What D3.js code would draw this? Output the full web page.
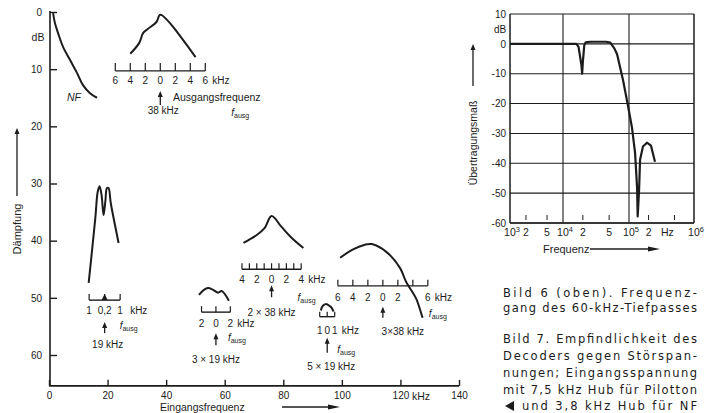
<!DOCTYPE html>
<html>
<head>
<meta charset="utf-8">
<script src="https://cdn.jsdelivr.net/npm/d3@7"></script>
<style>
    body { margin: 0; background: #fff; }
    text { font-family: "Liberation Sans", Arial, sans-serif; fill: #1c1c1c; }
    text.cap { font-family: "DejaVu Sans", sans-serif; }
</style>
</head>
<body>
<div id="chart"></div>
<script>
// ---- Bild 7: Daempfung ueber Eingangsfrequenz ----
var xTicks7 = [0, 20, 40, 60, 80, 100, 120, 140];
var yTicks7 = [0, 10, 20, 30, 40, 50, 60];

// NF curve (kHz, dB)
var nfCurve = [[1.4, 0.2], [2.0, 1.9], [3.1, 3.7], [4.8, 6.1], [7.2, 8.4], [9.6, 10.7], [11.6, 12.8], [14.0, 14.2], [16.4, 15.0]];

// curves around each centre frequency (offset kHz, dB)
var curve19 = [[-1.03, 47.4], [-0.6, 36], [-0.45, 31.5], [-0.33, 30.5], [-0.2, 32], [-0.07, 35.5], [0.05, 33], [0.15, 30.8], [0.25, 30.8], [0.4, 33.5], [0.9, 40.4]];
var curve38 = [[-4, 7.3], [-2.8, 5.4], [-2.3, 3.7], [-1.7, 3.0], [-0.5, 1.75], [0, 0.5], [4.7, 7.9]];
var curve57 = [[-2.36, 49.5], [-1.67, 48.6], [-1.1, 48.3], [-0.4, 48.6], [0.3, 49.1], [0.8, 48.8], [1.8, 50.5]];
var curve76 = [[-3.8, 40.4], [-2.0, 39], [-0.95, 37.8], [0, 35.7], [1.35, 37.6], [2.7, 39.5], [4.3, 41.3]];
var curve95 = [[-0.85, 52.2], [-0.6, 51.4], [-0.2, 51.1], [0.2, 51.3], [0.5, 51.6], [0.85, 52.4]];
var curve114 = [[-5.7, 43], [-4.1, 41.6], [-2.4, 40.7], [-1.5, 40.6], [0.5, 42], [2.3, 44.8], [3.1, 47.2], [4.5, 50.3], [5.3, 53.5]];

// offset scales of the insets
var scale19 = [-1, 0, 1];
var labels19 = ['1', '0,2', '1'];
var scale38 = [-6, -4, -2, 0, 2, 4, 6];
var labels38 = ['6', '4', '2', '0', '2', '4', '6'];
var scale57 = [-2, 0, 2];
var labels57 = ['2', '0', '2'];
var scale76 = [-4, -3, -2, -1, 0, 1, 2, 3, 4];
var labels76 = ['4', '', '2', '', '0', '', '2', '', '4'];
var scale95 = [-1, 0, 1];
var labels95 = ['1', '0', '1'];
var scale114 = [-6, -4, -2, 0, 2, 4, 6];
var labels114 = ['6', '4', '2', '0', '2', '', '6'];

// ---- Bild 6: Frequenzgang des 60-kHz-Tiefpasses ----
var freqTicks6 = [1e3, 1e4, 1e5, 1e6];
var minorTicks6 = [2e3, 5e3, 2e4, 5e4, 2e5, 5e5];
var minorLabels6 = ['2', '5', '2', '5', '2', 'Hz'];
var dbTicks6 = [10, 0, -10, -20, -30, -40, -50, -60];
// (Hz, dB)
var lowpass = [[1e3, 0], [1.6e4, 0], [1.72e4, -1], [1.9e4, -7], [1.95e4, -10], [2.0e4, -6], [2.1e4, -0.5], [2.2e4, 0.5],
    [2.6e4, 0.7], [4.5e4, 0.7], [5.2e4, 0.4], [6.0e4, -1.5], [6.6e4, -3.5], [8.1e4, -12], [9.7e4, -21], [1.11e5, -28],
    [1.24e5, -36.5], [1.33e5, -48], [1.36e5, -57.8], [1.43e5, -48.8], [1.48e5, -38.8], [1.64e5, -34.4], [1.89e5, -33.1],
    [2.18e5, -34.1], [2.51e5, -39.5]];

var captions = [
    'Bild 6 (oben). Frequenz-',
    'gang des 60-kHz-Tiefpasses',
    'Bild 7. Empfindlichkeit des',
    'Decoders gegen Störspan-',
    'nungen; Eingangsspannung',
    'mit 7,5 kHz Hub für Pilotton',
    'und 3,8 kHz Hub für NF'
];

var ink = '#1c1c1c';

var svg = d3.select('#chart').append('svg')
    .attr('width', 705)
    .attr('height', 413);

function arrowUp(g, px, yTop, yBot) {
    g.append('line').attr('x1', px).attr('x2', px).attr('y1', yTop + 4).attr('y2', yBot)
        .attr('stroke', ink).attr('stroke-width', 1.3);
    g.append('path').attr('d', 'M' + px + ',' + yTop + 'l-2.5,6h5z').attr('fill', ink);
}

function arrowRight(g, x1, x2, py) {
    g.append('line').attr('x1', x1).attr('x2', x2 - 6).attr('y1', py).attr('y2', py)
        .attr('stroke', ink).attr('stroke-width', 1.3);
    g.append('path').attr('d', 'M' + x2 + ',' + py + 'l-12,-2.5v5z').attr('fill', ink);
}

function fAusg(g, px, py) {
    var t = g.append('text').attr('x', px).attr('y', py).attr('font-size', 10);
    t.append('tspan').attr('font-style', 'italic').text('f');
    t.append('tspan').attr('font-size', 7).attr('dy', 2).text('ausg');
}

// ================= Bild 7 =================
var x = d3.scaleLinear().domain([0, 140]).range([49, 459]);
var y = d3.scaleLinear().domain([0, 60]).range([12, 355]);
var yBase = y(65.4);

var g7 = svg.append('g');

var yAxis = d3.axisLeft(y).tickValues(yTicks7).tickSizeInner(-7).tickSizeOuter(0).tickPadding(8);
g7.append('g')
    .attr('transform', 'translate(50,0)')
    .attr('font-size', 11)
    .style('color', ink)
    .call(yAxis)
    .call(function (a) { a.select('.domain').remove(); })
    .selectAll('line').attr('stroke-width', 1.4);

var xAxis = d3.axisBottom(x).tickValues(xTicks7).tickSizeInner(-6).tickSizeOuter(0).tickPadding(6);
g7.append('g')
    .attr('transform', 'translate(0,' + yBase + ')')
    .attr('font-size', 11)
    .style('color', ink)
    .call(xAxis)
    .call(function (a) { a.select('.domain').remove(); })
    .selectAll('line').attr('stroke-width', 1.4);

g7.append('line').attr('x1', 50).attr('x2', 50).attr('y1', y(0) - 1).attr('y2', yBase)
    .attr('stroke', ink).attr('stroke-width', 1.6);
g7.append('line').attr('x1', 49).attr('x2', x(140)).attr('y1', yBase).attr('y2', yBase)
    .attr('stroke', ink).attr('stroke-width', 1.6);

g7.append('text').attr('x', 38).attr('y', 41).attr('text-anchor', 'middle').attr('font-size', 10.5).text('dB');
g7.append('text').attr('x', 421).attr('y', yBase + 14).attr('text-anchor', 'middle').attr('font-size', 10.5).text('kHz');

// axis titles
g7.append('text').attr('transform', 'translate(21,229) rotate(-90)')
    .attr('text-anchor', 'middle').attr('font-size', 11).text('Dämpfung');
arrowUp(g7, 17, 128, 196);
g7.append('text').attr('x', 160).attr('y', 411).attr('font-size', 10.5).text('Eingangsfrequenz');
arrowRight(g7, 282, 340, 407);

// NF curve
var line7 = d3.line()
    .x(function (d) { return x(d[0]); })
    .y(function (d) { return y(d[1]); })
    .curve(d3.curveCatmullRom.alpha(0.5));

g7.append('path').datum(nfCurve).attr('d', line7)
    .attr('fill', 'none').attr('stroke', ink).attr('stroke-width', 2);
g7.append('text').attr('x', 67).attr('y', 101).attr('font-size', 10.5).attr('font-style', 'italic').text('NF');

// insets (layout offsets in px, relative to the scale bar)
var insets = [
    { f: 19, k: 15.5, bar: 50.4, curve: curve19, ticks: scale19, labels: labels19, tick: 6, lab: 14,
      arrow: [22, 33], name: '19 kHz', nameY: 48, nameDx: 3, unitDx: 10, fx: 15, fy: 29, mark: true },
    { f: 38, k: 7.5, bar: 10.3, curve: curve38, ticks: scale38, labels: labels38, tick: 8, lab: 13,
      arrow: [20, 34], name: '38 kHz', nameY: 43, nameDx: 3, unitDx: 7, fx: 71, fy: 45 },
    { f: 57, k: 7.2, bar: 52.5, curve: curve57, ticks: scale57, labels: labels57, tick: 6, lab: 15,
      arrow: [21, 33], name: '3 × 19 kHz', nameY: 51, nameDx: 0, unitDx: 7, fx: 12, fy: 29 },
    { f: 76, k: 7.4, bar: 45, curve: curve76, ticks: scale76, labels: labels76, tick: 6, lab: 14,
      arrow: [16, 28], name: '2 × 38 kHz', nameY: 47, nameDx: 0, unitDx: 7, fx: 26, fy: 32 },
    { f: 95, k: 7.5, bar: 53.3, curve: curve95, ticks: scale95, labels: labels95, tick: 5, lab: 17,
      arrow: [21, 36], name: '5 × 19 kHz', nameY: 53, nameDx: 4, unitDx: 7, fx: 10, fy: 36 },
    { f: 114, k: 7.5, bar: 47.9, curve: curve114, ticks: scale114, labels: labels114, tick: 6, lab: 15,
      arrow: [21, 32], name: '3×38 kHz', nameY: 49, nameDx: 20, unitDx: 7, fx: 46, fy: 31 }
];

insets.forEach(function (ins) {
    var cx = x(ins.f);
    var local = d3.scaleLinear().domain([-1, 1]).range([cx - ins.k, cx + ins.k]);
    var by = y(ins.bar);
    var g = g7.append('g');

    g.append('path').datum(ins.curve)
        .attr('d', d3.line()
            .x(function (d) { return local(d[0]); })
            .y(function (d) { return y(d[1]); })
            .curve(d3.curveCatmullRom.alpha(0.5)))
        .attr('fill', 'none').attr('stroke', ink).attr('stroke-width', 2);

    var t0 = ins.ticks[0], t1 = ins.ticks[ins.ticks.length - 1];
    g.append('line').attr('x1', local(t0)).attr('x2', local(t1)).attr('y1', by).attr('y2', by)
        .attr('stroke', ink).attr('stroke-width', 1.4);
    g.selectAll('line.tk').data(ins.ticks).enter().append('line')
        .attr('x1', function (d) { return local(d); })
        .attr('x2', function (d) { return local(d); })
        .attr('y1', by).attr('y2', by - ins.tick)
        .attr('stroke', ink).attr('stroke-width', 1.2);
    g.selectAll('text.tl').data(ins.ticks).enter().append('text')
        .attr('x', function (d) { return local(d); })
        .attr('y', by + ins.lab)
        .attr('text-anchor', 'middle').attr('font-size', 10)
        .text(function (d, i) { return ins.labels[i]; });
    g.append('text').attr('x', local(t1) + ins.unitDx).attr('y', by + ins.lab)
        .attr('font-size', 10).text('kHz');

    if (ins.mark) {
        g.append('path').attr('d', 'M' + cx + ',' + (by - 6) + 'l-3,6h6z').attr('fill', ink);
    }

    arrowUp(g, cx, by + ins.arrow[0], by + ins.arrow[1]);
    g.append('text').attr('x', cx + ins.nameDx).attr('y', by + ins.nameY)
        .attr('text-anchor', 'middle').attr('font-size', 10).text(ins.name);
    fAusg(g, cx + ins.fx, by + ins.fy);
});

g7.append('text').attr('x', 173).attr('y', 101).attr('font-size', 10.5).text('Ausgangsfrequenz');

// ================= Bild 6 =================
var xr = d3.scaleLog().domain(freqTicks6).range([510, 563, 629, 694]);
var yr = d3.scaleLinear().domain([-60, 10]).range([223, 14]);

var g6 = svg.append('g');

g6.selectAll('line.hg').data(dbTicks6).enter().append('line')
    .attr('x1', xr(1e3)).attr('x2', xr(1e6))
    .attr('y1', function (d) { return yr(d); })
    .attr('y2', function (d) { return yr(d); })
    .attr('stroke', ink).attr('stroke-width', 1.1);
g6.selectAll('line.vg').data(freqTicks6).enter().append('line')
    .attr('x1', function (d) { return xr(d); })
    .attr('x2', function (d) { return xr(d); })
    .attr('y1', yr(10)).attr('y2', yr(-60))
    .attr('stroke', ink).attr('stroke-width', function (d, i) { return i === 0 || i === 3 ? 1.5 : 1.1; });
g6.append('line').attr('x1', xr(1e3)).attr('x2', xr(1e6)).attr('y1', yr(-60)).attr('y2', yr(-60))
    .attr('stroke', ink).attr('stroke-width', 1.5);
g6.selectAll('line.mt').data(minorTicks6).enter().append('line')
    .attr('x1', function (d) { return xr(d); })
    .attr('x2', function (d) { return xr(d); })
    .attr('y1', yr(-60) - 3).attr('y2', yr(-60) - 8)
    .attr('stroke', ink).attr('stroke-width', 1);

var yAxis6 = d3.axisLeft(yr).tickValues(dbTicks6).tickSize(0).tickPadding(4)
    .tickFormat(function (d) { return String(d); });
g6.append('g').attr('transform', 'translate(' + xr(1e3) + ',0)')
    .attr('font-size', 10.5)
    .call(yAxis6)
    .call(function (a) { a.select('.domain').remove(); });
g6.append('text').attr('x', 500).attr('y', 33).attr('text-anchor', 'middle').attr('font-size', 10).text('dB');

// frequency labels
var decadeLab = g6.selectAll('text.dl').data(freqTicks6).enter().append('text')
    .attr('x', function (d) { return xr(d) + 2; })
    .attr('y', 236)
    .attr('text-anchor', 'middle').attr('font-size', 10.5);
decadeLab.append('tspan').text('10');
decadeLab.append('tspan').attr('font-size', 7.5).attr('dy', -4)
    .text(function (d) { return String(Math.round(Math.log10(d))); });
g6.selectAll('text.ml').data(minorTicks6).enter().append('text')
    .attr('x', function (d, i) { return i === 5 ? xr(d) - 7 : xr(d); })
    .attr('y', 236)
    .attr('text-anchor', 'middle').attr('font-size', 10.5)
    .text(function (d, i) { return minorLabels6[i]; });

g6.append('text').attr('x', 543).attr('y', 253).attr('font-size', 11).text('Frequenz');
arrowRight(g6, 590, 660, 249);

g6.append('text').attr('transform', 'translate(477,143) rotate(-90)')
    .attr('text-anchor', 'middle').attr('font-size', 10.5).text('Übertragungsmaß');
arrowUp(g6, 473, 44, 86);

var line6 = d3.line()
    .x(function (d) { return xr(d[0]); })
    .y(function (d) { return yr(d[1]); });
g6.append('path').datum(lowpass).attr('d', line6)
    .attr('fill', 'none').attr('stroke', ink).attr('stroke-width', 2.2).attr('stroke-linejoin', 'round');

// ================= captions =================
var capY = [297, 312, 343, 360, 377, 394, 410];
var gc = svg.append('g');
gc.selectAll('text.cap').data(captions).enter().append('text')
    .attr('class', 'cap')
    .attr('x', function (d, i) { return i === 6 ? 522 : 503; })
    .attr('y', function (d, i) { return capY[i]; })
    .attr('font-size', 11.5)
    .attr('textLength', function (d, i) { return i === 6 ? 175 : 194; })
    .attr('lengthAdjust', 'spacing')
    .text(function (d) { return d; });
gc.append('path').attr('d', 'M505,406l9,-5v10z').attr('fill', ink);
</script>
</body>
</html>
